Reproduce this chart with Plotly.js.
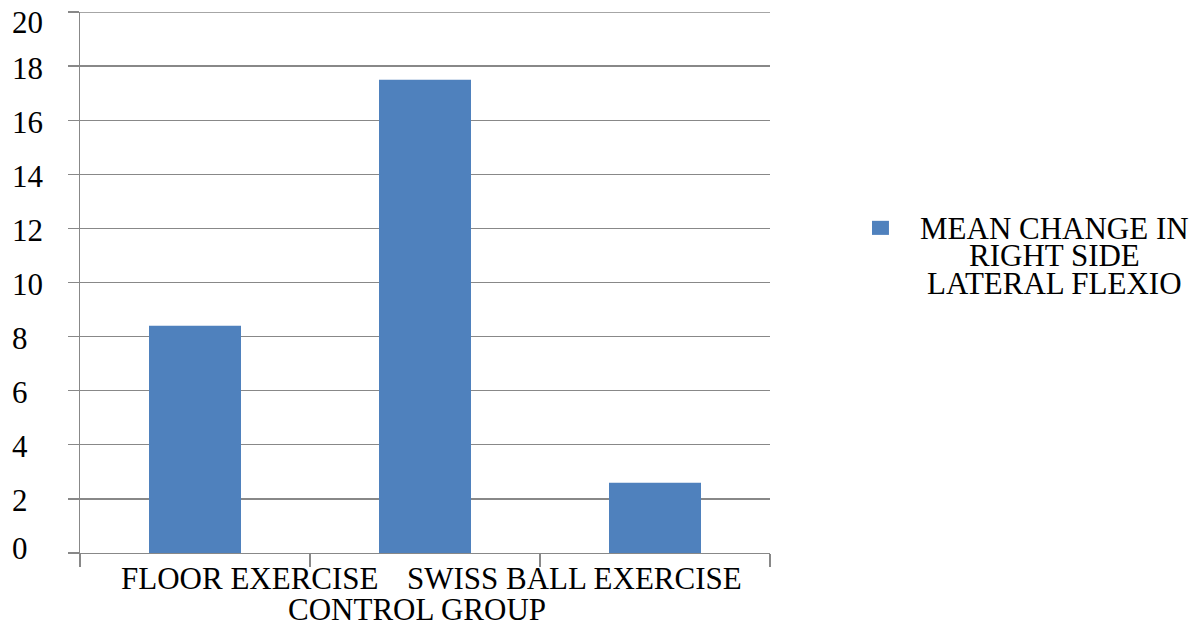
<!DOCTYPE html>
<html>
<head>
<meta charset="utf-8">
<script src="https://cdn.plot.ly/plotly-3.0.1.min.js"></script>
<style>html,body{margin:0;padding:0;background:#fff;}#chart{width:1192px;height:626px;}</style>
</head>
<body>
<div id="chart"></div>
<script>
const categories = ["FLOOR EXERCISE", "SWISS BALL EXERCISE", "CONTROL GROUP"];
const meanChange = [8.4, 17.5, 2.6];
const seriesName = ["MEAN CHANGE IN", "RIGHT SIDE", "LATERAL FLEXIO"];
const yTicks = [0, 2, 4, 6, 8, 10, 12, 14, 16, 18, 20];

const FONT = "Liberation Serif";
const GRID = "#888888";

const trace = {
  type: "bar",
  x: categories,
  y: meanChange,
  width: 0.4,
  marker: {color: "#4f81bd", line: {width: 0}},
  showlegend: false,
  hoverinfo: "x+y"
};

const annotations = [];

// y tick labels (left-aligned, as in the original)
yTicks.forEach((v, i) => annotations.push({
  text: String(v), xref: "paper", yref: "y",
  x: -0.1015, y: v,
  xanchor: "left", yanchor: "middle",
  yshift: i === yTicks.length - 1 ? -10 : (i === 0 ? 5 : -2),
  showarrow: false,
  font: {family: FONT, size: 31, color: "#000"}
}));

// x-axis category labels, staggered as in the original
const xLabelPos = [
  {x: 0.246, y: -0.047},
  {x: 0.716, y: -0.047},
  {x: 0.489, y: -0.104}
];
categories.forEach((c, i) => annotations.push({
  text: c, xref: "paper", yref: "paper",
  x: xLabelPos[i].x, y: xLabelPos[i].y,
  xanchor: "center", yanchor: "middle",
  showarrow: false,
  font: {family: FONT, size: 31, color: "#000"}
}));

// legend text, centred lines
const legendY = [0.599, 0.549, 0.498];
seriesName.forEach((t, i) => annotations.push({
  text: t, xref: "paper", yref: "paper",
  x: 1.412, y: legendY[i],
  xanchor: "center", yanchor: "middle",
  showarrow: false,
  font: {family: FONT, size: 31, color: "#000"}
}));

const layout = {
  width: 1192, height: 626,
  margin: {l: 80, r: 422, t: 12, b: 73, pad: 0},
  paper_bgcolor: "#fff", plot_bgcolor: "#fff",
  font: {family: FONT, size: 31, color: "#000"},
  bargap: 0.6,
  xaxis: {
    type: "category",
    range: [-0.5, 2.5],
    showticklabels: false,
    ticks: "outside", ticklen: 13, tickwidth: 1.4, tickcolor: GRID,
    tickson: "boundaries",
    showgrid: false,
    showline: true, linecolor: GRID, linewidth: 1.4,
    zeroline: false, fixedrange: true
  },
  yaxis: {
    range: [0, 20],
    tickvals: yTicks,
    showticklabels: false,
    ticks: "outside", ticklen: 11, tickwidth: 1.4, tickcolor: GRID,
    showgrid: true, gridcolor: GRID, gridwidth: 1.4,
    showline: true, linecolor: GRID, linewidth: 1.4,
    zeroline: false, fixedrange: true
  },
  shapes: [
    {
      type: "line", xref: "paper", yref: "y",
      x0: 0, x1: 1, y0: yTicks[yTicks.length - 1], y1: yTicks[yTicks.length - 1],
      line: {color: GRID, width: 1.4}
    },
    {
      type: "rect", xref: "paper", yref: "paper",
      x0: 1.1478, x1: 1.1724, y0: 0.588, y1: 0.614,
      fillcolor: "#4f81bd", line: {width: 0}
    }
  ],
  annotations: annotations
};

Plotly.newPlot("chart", [trace], layout, {displayModeBar: false, staticPlot: true});
</script>
</body>
</html>
